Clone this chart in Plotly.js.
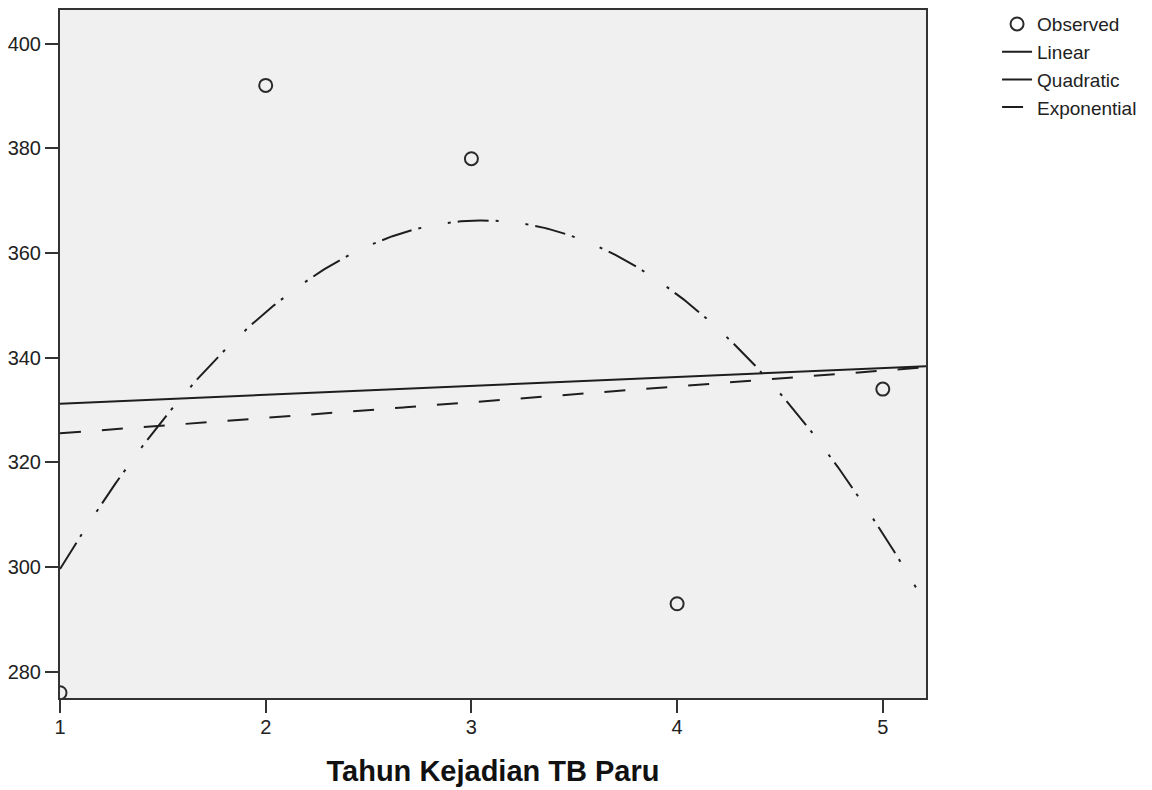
<!DOCTYPE html>
<html>
<head>
<meta charset="utf-8">
<script src="https://cdn.plot.ly/plotly-3.0.1.min.js"></script>
<style>
  html, body { margin: 0; padding: 0; background: #ffffff; }
  #chart { width: 1152px; height: 790px; }
</style>
</head>
<body>
<div id="chart"></div>
<script>
const years = [1, 2, 3, 4, 5];
const observed = [276, 392, 378, 293, 334];

// Axis tick labels
const xTicks = [1, 2, 3, 4, 5];
const yTicks = [280, 300, 320, 340, 360, 380, 400];

const seriesNames = ["Observed", "Linear", "Quadratic", "Exponential"];
const xTitle = "Tahun Kejadian TB Paru";

// Least-squares polynomial fit of the observed data
function polyfit(xs, ys, deg) {
  const n = deg + 1;
  const A = [];
  for (let i = 0; i < n; i++) {
    A.push(new Array(n + 1).fill(0));
  }
  for (let k = 0; k < xs.length; k++) {
    for (let i = 0; i < n; i++) {
      for (let j = 0; j < n; j++) A[i][j] += Math.pow(xs[k], i + j);
      A[i][n] += ys[k] * Math.pow(xs[k], i);
    }
  }
  for (let c = 0; c < n; c++) {
    let p = c;
    for (let r = c + 1; r < n; r++) if (Math.abs(A[r][c]) > Math.abs(A[p][c])) p = r;
    [A[c], A[p]] = [A[p], A[c]];
    for (let r = 0; r < n; r++) {
      if (r === c) continue;
      const f = A[r][c] / A[c][c];
      for (let j = c; j <= n; j++) A[r][j] -= f * A[c][j];
    }
  }
  return A.map((row, i) => row[n] / row[i]);
}

const linCoef = polyfit(years, observed, 1);
const quadCoef = polyfit(years, observed, 2);
const expCoef = polyfit(years, observed.map(v => Math.log(v)), 1);

function sampleX(from, to, step) {
  const out = [];
  for (let x = from; x <= to + 1e-9; x += step) out.push(x);
  return out;
}
const xFit = sampleX(1, 5.21, 0.01);
const xQuad = sampleX(1, 5.17, 0.01);
const yLin = xFit.map(x => linCoef[0] + linCoef[1] * x);
const yQuad = xQuad.map(x => quadCoef[0] + quadCoef[1] * x + quadCoef[2] * x * x);
const yExp = xFit.map(x => Math.exp(expCoef[0] + expCoef[1] * x));

const lineColor = "#1e1e1e";

const traces = [
  {
    x: years, y: observed, name: seriesNames[0], type: "scatter", mode: "markers",
    marker: { symbol: "circle-open", size: 13, color: "#2a2a2a", line: { width: 2, color: "#2a2a2a" } }
  },
  {
    x: xFit, y: yLin, name: seriesNames[1], type: "scatter", mode: "lines",
    line: { color: lineColor, width: 2 }
  },
  {
    x: xQuad, y: yQuad, name: seriesNames[2], type: "scatter", mode: "lines",
    line: { color: lineColor, width: 2, dash: "31px,7px,3px,27px,3px,7px" }
  },
  {
    x: xFit, y: yExp, name: seriesNames[3], type: "scatter", mode: "lines",
    line: { color: lineColor, width: 2, dash: "21px,21px" }
  }
];

const layout = {
  width: 1152, height: 790,
  margin: { l: 60, r: 226, t: 10, b: 92, pad: 0 },
  paper_bgcolor: "#ffffff",
  plot_bgcolor: "#f0f0f0",
  font: { family: "Liberation Sans, Arial, sans-serif", color: "#222222", size: 20 },
  showlegend: true,
  legend: {
    xref: "container", yref: "container",
    x: 0.8655, xanchor: "left", y: 0.9935, yanchor: "top",
    font: { size: 19, color: "#222222" },
    bgcolor: "rgba(0,0,0,0)", itemwidth: 30, tracegroupgap: 0
  },
  xaxis: {
    range: [1, 5.21],
    tickvals: xTicks, ticktext: xTicks.map(String),
    ticks: "outside", ticklen: 13, tickwidth: 2, tickcolor: "#333333",
    ticklabelstandoff: -3,
    showline: true, linecolor: "#333333", linewidth: 2, mirror: true,
    showgrid: false, zeroline: false,
    tickfont: { size: 20 },
    title: { text: xTitle, font: { size: 29, color: "#111111", family: "Liberation Sans, Arial, sans-serif", weight: "bold" }, standoff: 24 }
  },
  yaxis: {
    range: [275, 406.4],
    tickvals: yTicks, ticktext: yTicks.map(String),
    ticks: "outside", ticklen: 13, tickwidth: 2, tickcolor: "#333333",
    showline: true, linecolor: "#333333", linewidth: 2, mirror: true,
    showgrid: false, zeroline: false,
    tickfont: { size: 20 }
  }
};

Plotly.newPlot("chart", traces, layout, { displayModeBar: false, staticPlot: true });
</script>
</body>
</html>
